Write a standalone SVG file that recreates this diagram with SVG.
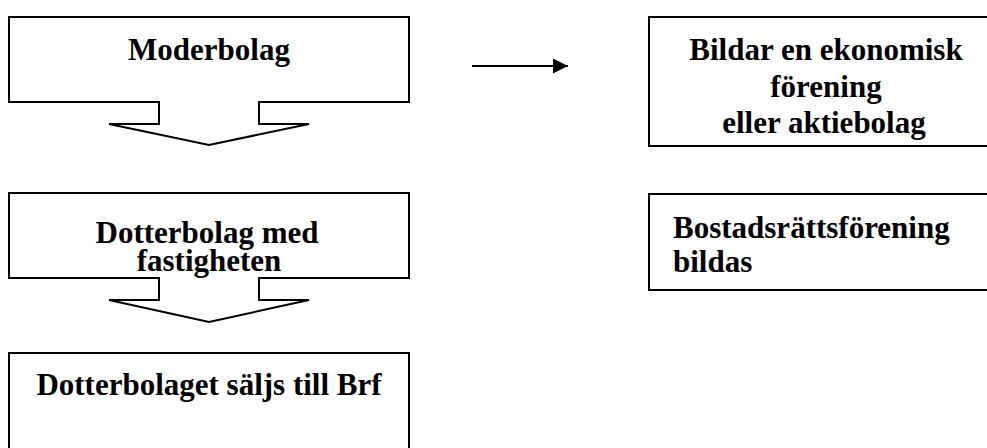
<svg xmlns="http://www.w3.org/2000/svg" width="987" height="448" viewBox="0 0 987 448">
  <style>
    .shape { fill: #ffffff; stroke: #000000; stroke-width: 2; stroke-linejoin: miter; }
    .label { font-family: "Liberation Serif", "Times New Roman", serif; font-weight: bold; font-size: 31px; fill: #000000; }
    .mid { text-anchor: middle; }
    .link { stroke: #000000; stroke-width: 2; fill: none; }
  </style>
  <defs>
    <marker id="arrowhead" markerWidth="15" markerHeight="15" refX="15" refY="7.5" orient="auto" markerUnits="userSpaceOnUse" viewBox="0 0 15 15">
      <polygon points="0,0 15,7.5 0,15" fill="#000000"/>
    </marker>
  </defs>
  <rect width="987" height="448" fill="#ffffff"/>

  <!-- parent company: box with downward block arrow -->
  <g id="moderbolag">
    <path class="shape" d="M9,17 H409 V102 H259 V124 H309 L209,145 L109,124 H159 V102 H9 Z"/>
    <text class="label mid" x="209" y="60">Moderbolag</text>
  </g>

  <!-- subsidiary holding the property -->
  <g id="dotterbolag">
    <path class="shape" d="M9,193 H409 V278 H259 V300 H309 L209,322 L109,300 H159 V278 H9 Z"/>
    <text class="label mid" x="207" y="243">Dotterbolag med</text>
    <text class="label mid" x="209" y="271">fastigheten</text>
  </g>

  <!-- subsidiary sold to the housing association -->
  <g id="forsaljning">
    <rect class="shape" x="9" y="353" width="400" height="130"/>
    <text class="label mid" x="209" y="395">Dotterbolaget säljs till Brf</text>
  </g>

  <!-- economic association or limited company -->
  <g id="bildar">
    <rect class="shape" x="649" y="17" width="360" height="129"/>
    <text class="label mid" x="826" y="60">Bildar en ekonomisk</text>
    <text class="label mid" x="826" y="97">förening</text>
    <text class="label mid" x="824" y="133">eller aktiebolag</text>
  </g>

  <!-- housing association formed -->
  <g id="brf">
    <rect class="shape" x="649" y="194" width="360" height="96"/>
    <text class="label" x="673" y="238">Bostadsrättsförening</text>
    <text class="label" x="673" y="272">bildas</text>
  </g>

  <g id="connectors">
    <line class="link" x1="472" y1="66" x2="568" y2="66" marker-end="url(#arrowhead)"/>
  </g>
</svg>
